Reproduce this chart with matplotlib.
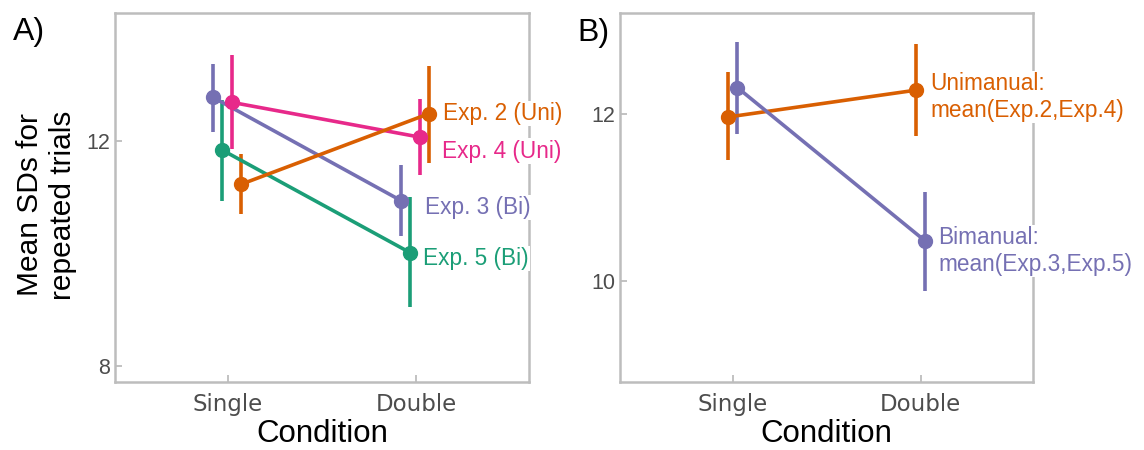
#!/usr/bin/env python3

# SD across repeated trials: single vs double condition, per experiment (A)
# and pooled by hand condition (B)

import matplotlib
matplotlib.use('Agg')
import matplotlib.pyplot as plt

plt.rcParams['font.family'] = ['Liberation Sans', 'DejaVu Sans']

conditions = ['Single', 'Double']

# panel A: per-experiment means with interval ends
exp_labels = ['Exp. 3 (Bi)', 'Exp. 5 (Bi)', 'Exp. 4 (Uni)', 'Exp. 2 (Uni)']
exp3_mean = [12.78, 10.94]
exp3_lo = [12.17, 10.31]
exp3_hi = [13.38, 11.57]
exp5_mean = [11.84, 10.01]
exp5_lo = [10.93, 9.04]
exp5_hi = [12.73, 11.00]
exp4_mean = [12.69, 12.07]
exp4_lo = [11.85, 11.40]
exp4_hi = [13.54, 12.75]
exp2_mean = [11.23, 12.49]
exp2_lo = [10.71, 11.61]
exp2_hi = [11.77, 13.34]

# panel B: pooled unimanual / bimanual
pooled_labels = ['Unimanual:\nmean(Exp.2,Exp.4)', 'Bimanual:\nmean(Exp.3,Exp.5)']
uni_mean = [11.96, 12.28]
uni_lo = [11.45, 11.73]
uni_hi = [12.50, 12.83]
bi_mean = [12.31, 10.48]
bi_lo = [11.76, 9.89]
bi_hi = [12.85, 11.06]

green = '#1B9E77'
orange = '#D95F02'
purple = '#7570B3'
pink = '#E7298A'
border = '#BDBDBD'
tickgrey = '#4D4D4D'

fig = plt.figure(figsize=(11.44, 4.5), dpi=100)
axA = fig.add_axes([0.1005, 0.1511, 0.3619, 0.82])
axB = fig.add_axes([0.5420, 0.1511, 0.3613, 0.82])


def draw_series(ax, mean, lo, hi, dodge, color, label, shift):
    xs = [i + 1 + dodge for i in range(len(mean))]
    for x, a, b in zip(xs, lo, hi):
        ax.plot([x, x], [a, b], color=color, lw=2.6, solid_capstyle='butt', zorder=3)
    ax.plot(xs, mean, color=color, lw=2.6, marker='o', ms=10, zorder=4)
    # label sits just right of the Double point, on a white patch
    ax.annotate(label, (xs[-1], mean[-1]), xytext=shift,
                textcoords='offset pixels', color=color, fontsize=16.3,
                ha='left', va='center', annotation_clip=False, zorder=6,
                bbox=dict(boxstyle='square,pad=0.05', fc='white', ec='none'))


series_a = [
    (exp3_mean, exp3_lo, exp3_hi, -0.08, purple, (24, -7)),
    (exp5_mean, exp5_lo, exp5_hi, -0.03, green, (13, -6)),
    (exp4_mean, exp4_lo, exp4_hi, 0.02, pink, (22, -14)),
    (exp2_mean, exp2_lo, exp2_hi, 0.07, orange, (14, 0)),
]
for (m, lo, hi, d, c, sh), lab in zip(series_a, exp_labels):
    draw_series(axA, m, lo, hi, d, c, lab, sh)

draw_series(axB, uni_mean, uni_lo, uni_hi, -0.025, orange, pooled_labels[0], (14, -7))
draw_series(axB, bi_mean, bi_lo, bi_hi, 0.025, purple, pooled_labels[1], (13, -10))

axA.set_ylim(7.71, 14.28)
axA.set_yticks([8, 12])
axB.set_ylim(8.8, 13.2)
axB.set_yticks([10, 12])

for ax in (axA, axB):
    ax.set_xlim(0.4, 2.6)
    ax.set_xticks([1, 2])
    ax.set_xticklabels(conditions, family='DejaVu Sans', fontsize=16.5, color=tickgrey)
    for t in ax.get_yticklabels():
        t.set_fontsize(15.5)
        t.set_color(tickgrey)
    ax.tick_params(axis='both', direction='in', length=5, width=1.3, color=border)
    ax.tick_params(axis='x', pad=8)
    ax.tick_params(axis='y', pad=3.5)
    for s in ax.spines.values():
        s.set_color(border)
        s.set_linewidth(1.8)
    ax.set_xlabel('Condition', fontsize=22.5, labelpad=2)

axA.set_ylabel('Mean SDs for\nrepeated trials', fontsize=21.5, va='center',
               linespacing=1.25)
axA.yaxis.set_label_coords(-0.165, 0.48)

fig.text(13 / 1144, 1 - 40 / 450, 'A)', fontsize=23, ha='left', va='baseline')
fig.text(577 / 1144, 1 - 41 / 450, 'B)', fontsize=23, ha='left', va='baseline')

fig.savefig('out.png', dpi=100)
